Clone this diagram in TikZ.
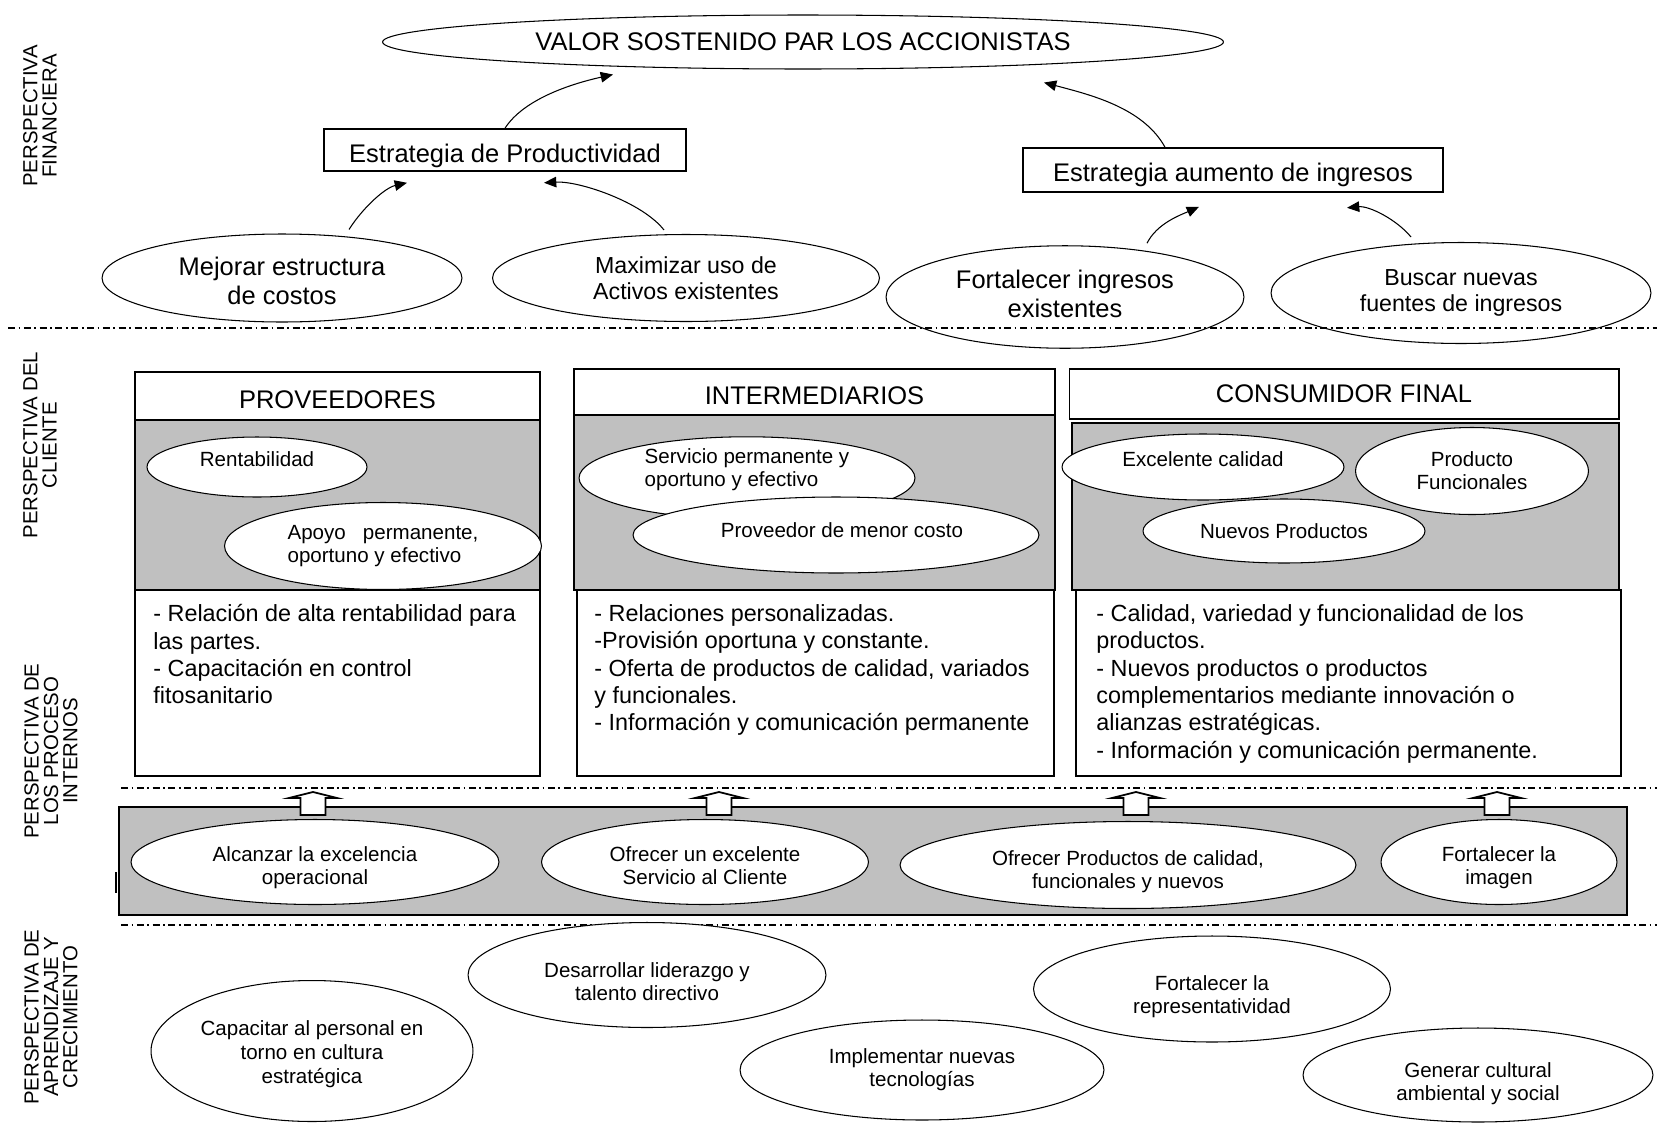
\documentclass[tikz,border=0pt]{standalone}
\usepackage{fontspec}
\setmainfont{Liberation Sans}
\usetikzlibrary{calc, arrows.meta, shapes.geometric}
\definecolor{panelgray}{RGB}{192,192,192}
\newcommand{\fsBig}{\fontsize{14.5}{16.2}\selectfont}
\newcommand{\fsMid}{\fontsize{13.2}{15}\selectfont}
\newcommand{\fsText}{\fontsize{13.3}{15.6}\selectfont}
\newcommand{\fsSmall}{\fontsize{11.7}{13.2}\selectfont}
\newcommand{\fsSide}{\fontsize{11.6}{11}\selectfont}
\newcommand{\abajo}[1]{\rule{0pt}{#1}}
\newcommand{\arriba}[1]{\rule[-#1]{0pt}{#1}}

\begin{document}
\begin{tikzpicture}[x=0.02cm, y=-0.02cm,
    oval/.style={draw, ellipse, fill=white, inner sep=0pt, align=center, line width=0.6pt},
    caja/.style={draw, rectangle, fill=white, inner sep=0pt, line width=0.9pt},
    gris/.style={draw, rectangle, fill=panelgray, inner sep=0pt, line width=1.1pt},
    txt/.style={anchor=north west, align=left, inner sep=0pt, font=\fsText},
    flecha/.style={-{Triangle[length=7pt,width=6pt]}, line width=0.6pt},
    corte/.style={line width=0.8pt, dash pattern=on 4pt off 2pt on 1pt off 2pt},
    lado/.style={rotate=90, align=center, inner sep=0pt, font=\fsSide},
    flechon/.style={draw, fill=white, line width=1pt, line join=miter}]
    \useasboundingbox (0,0) rectangle (1657,1123);

    % perspectiva financiera
    \node[oval, minimum width=16.82cm, minimum height=1.08cm, font=\fsBig] (valor) at (803,42) {VALOR SOSTENIDO PAR LOS ACCIONISTAS};
    \node[caja, minimum width=7.24cm, minimum height=0.84cm, font=\fsBig] (prod) at (505,150) {\abajo{17.8pt}Estrategia de Productividad};
    \node[caja, minimum width=8.4cm, minimum height=0.88cm, font=\fsBig] (aum) at (1233,170) {\abajo{16.6pt}Estrategia aumento de ingresos};
    \node[oval, minimum width=7.2cm, minimum height=1.76cm, font=\fsBig] (mej) at (282,278) {\abajo{13.6pt}Mejorar estructura\\de costos};
    \node[oval, minimum width=7.74cm, minimum height=1.74cm, font=\fsMid] (maxi) at (686,278) {Maximizar uso de\\Activos existentes};
    \node[oval, minimum width=7.16cm, minimum height=2.05cm, font=\fsBig] (fort) at (1065,297) {Fortalecer ingresos\\existentes\arriba{3.6pt}};
    \node[oval, minimum width=7.6cm, minimum height=2.02cm, font=\fsMid] (busc) at (1461,293) {Buscar nuevas\\fuentes de ingresos};

    \draw[flecha] (prod.north) .. controls +(18,-28) and +(-45,10) .. ($(valor.south)+(-190,5)$);
    \draw[flecha] ($(aum.north)+(-68,0)$) .. controls +(-22,-40) and +(45,12) .. ($(valor.south)+(241,13)$);
    \draw[flecha] ($(mej.north)+(67,-4)$) .. controls +(14,-22) and +(-22,5) .. ($(prod.south)+(-98,11)$);
    \draw[flecha] ($(maxi.north)+(-22,-4)$) .. controls +(-22,-28) and +(35,-2) .. ($(prod.south)+(39,11)$);
    \draw[flecha] ($(fort.north)+(82,-2)$) .. controls +(10,-20) and +(-18,8) .. ($(aum.south)+(-34,14)$);
    \draw[flecha] ($(busc.north)+(-50,-5)$) .. controls +(-15,-18) and +(22,-2) .. ($(aum.south)+(114,15)$);

    \foreach \yy/\xs in {328/8, 788/121, 925/121}
        \draw[corte] (\xs,\yy) -- (1657,\yy);

    % cliente y procesos internos
    \node[gris, minimum width=8.1cm, minimum height=3.4cm] (gprov) at (337.5,505) {};
    \node[caja, minimum width=8.1cm, minimum height=0.96cm, font=\fsBig] (hprov) at (337.5,396) {\abajo{14pt}PROVEEDORES};
    \node[caja, line width=1.1pt, minimum width=8.1cm, minimum height=3.72cm] (pprov) at (337.5,683) {};
    \node[gris, minimum width=9.62cm, minimum height=3.5cm] (gint) at (814.5,502.5) {};
    \node[caja, minimum width=9.62cm, minimum height=0.92cm, font=\fsBig] (hint) at (814.5,392) {\abajo{14pt}INTERMEDIARIOS};
    \node[caja, line width=1.1pt, minimum width=9.54cm, minimum height=3.72cm] (pint) at (815.5,683) {};
    \node[gris, minimum width=10.94cm, minimum height=3.34cm] (gcon) at (1345.5,506.5) {};
    \node[caja, minimum width=10.99cm, minimum height=0.99cm, font=\fsBig] (hcon) at (1344,394) {CONSUMIDOR FINAL};
    \node[caja, line width=1.1pt, minimum width=10.9cm, minimum height=3.72cm] (pcon) at (1348.5,683) {};

    \node[oval, minimum width=4.4cm, minimum height=1.2cm, font=\fsSmall] (rent) at (257,467) {Rentabilidad\arriba{9.6pt}};
    \node[oval, align=left, minimum width=6.34cm, minimum height=1.74cm, font=\fsSmall] (apoyo) at (383,546) {Apoyo\ \ \ permanente,\\oportuno y efectivo};
    \node[oval, align=left, minimum width=6.72cm, minimum height=1.58cm, font=\fsSmall] (serv) at (747,478) {Servicio permanente y\\oportuno y efectivo\arriba{11.5pt}};
    \node[oval, minimum width=8.12cm, minimum height=1.52cm, font=\fsSmall] (pmc) at (836,535) {\hspace*{6.8pt}Proveedor de menor costo\arriba{6.1pt}};
    \node[oval, minimum width=5.64cm, minimum height=1.32cm, font=\fsSmall] (exc) at (1203,467) {Excelente calidad\arriba{9.6pt}};
    \node[oval, minimum width=4.66cm, minimum height=1.74cm, font=\fsSmall] (pfun) at (1472,471) {Producto\\Funcionales};
    \node[oval, minimum width=5.64cm, minimum height=1.28cm, font=\fsSmall] (nue) at (1284,531) {Nuevos Productos};

    \node[txt] (tprov) at ($(pprov.north west)+(19,15)$) {- Relación de alta rentabilidad para\\las partes.\\- Capacitación en control\\fitosanitario};
    \node[txt] (tint) at ($(pint.north west)+(18,15)$) {- Relaciones personalizadas.\\-Provisión oportuna y constante.\\- Oferta de productos de calidad, variados\\y funcionales.\\- Información y comunicación permanente};
    \node[txt] (tcon) at ($(pcon.north west)+(21,15)$) {- Calidad, variedad y funcionalidad de los\\productos.\\- Nuevos productos o productos\\complementarios mediante innovación o\\alianzas estratégicas.\\- Información y comunicación permanente.};

    \node[gris, minimum width=30.17cm, minimum height=2.16cm] (banda) at (873,861) {};
    \foreach \ax in {313,719,1136,1497}
        \draw[flechon] (\ax-12.5,815) -- (\ax-12.5,798) -- (\ax-24,798) -- (\ax,792)
            -- (\ax+24,798) -- (\ax+12.5,798) -- (\ax+12.5,815) -- cycle;
    \draw[line width=1.2pt] (116,872) -- (116,893);

    \node[oval, minimum width=7.36cm, minimum height=1.7cm, font=\fsSmall] (alc) at (315,862) {\abajo{14.6pt}Alcanzar la excelencia\\operacional};
    \node[oval, minimum width=6.54cm, minimum height=1.7cm, font=\fsSmall] (ofs) at (705,862) {\abajo{12.2pt}Ofrecer un excelente\\Servicio al Cliente};
    \node[oval, minimum width=9.12cm, minimum height=1.74cm, font=\fsSmall] (ofp) at (1128,865) {\abajo{15.8pt}Ofrecer Productos de calidad,\\funcionales y nuevos};
    \node[oval, minimum width=4.72cm, minimum height=1.7cm, font=\fsSmall] (fim) at (1499,862) {\abajo{14.6pt}Fortalecer la\\imagen};

    % aprendizaje y crecimiento
    \node[oval, minimum width=6.44cm, minimum height=2.82cm, font=\fontsize{11.7}{13.8}\selectfont] (cap) at (312,1051) {\abajo{12pt}Capacitar al personal en\\torno en cultura\\estratégica};
    \node[oval, minimum width=7.16cm, minimum height=2.1cm, font=\fsSmall] (des) at (647,975) {\abajo{15.8pt}Desarrollar liderazgo y\\talento directivo};
    \node[oval, minimum width=7.28cm, minimum height=2.0cm, font=\fsSmall] (imp) at (922,1070) {Implementar nuevas\\tecnologías};
    \node[oval, minimum width=7.14cm, minimum height=2.12cm, font=\fsSmall] (rep) at (1212,989) {\abajo{17.6pt}Fortalecer la\\representatividad};
    \node[oval, minimum width=7.0cm, minimum height=1.88cm, font=\fsSmall] (gen) at (1478,1075) {\abajo{18.8pt}Generar cultural\\ambiental y social};

    \node[lado] (lfin) at (40,116) {PERSPECTIVA\\FINANCIERA};
    \node[lado] (lcli) at (40,445) {PERSPECTIVA DEL\\CLIENTE};
    \node[lado] (lpro) at (51,751) {PERSPECTIVA DE\\LOS PROCESO\\INTERNOS};
    \node[lado] (lapr) at (51,1017) {PERSPECTIVA DE\\APRENDIZAJE Y\\CRECIMIENTO};
\end{tikzpicture}
\end{document}
